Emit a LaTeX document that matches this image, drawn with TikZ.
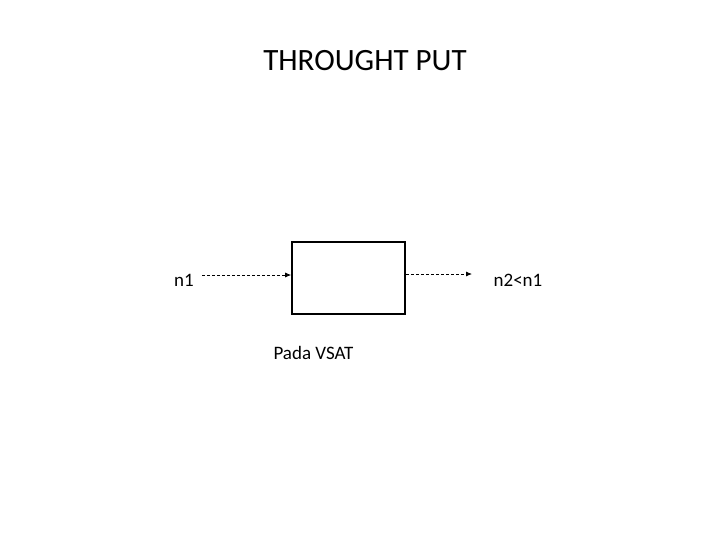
\documentclass[tikz,border=0pt]{standalone}
\usepackage{fontspec}
\setmainfont{Carlito}
\usetikzlibrary{arrows.meta}
\begin{document}
\begin{tikzpicture}[x=1pt,y=-1pt,
  lbl/.style={font=\fontsize{19}{22}\selectfont, inner sep=0pt},
  flow/.style={line width=0.8pt, dash pattern=on 3pt off 2pt, -{Latex[length=6pt,width=5pt]}}]
\useasboundingbox (0,0) rectangle (720,540);
\node[font=\fontsize{31}{36}\selectfont, inner sep=0pt] (title) at (365,61) {THROUGHT PUT};
\node[draw, line width=1.6pt, minimum width=113pt, minimum height=72pt, inner sep=0pt] (box) at (348.5,278) {};
\node[lbl] (n1) at (184,280) {n1};
\node[lbl] (n2) at (518,280) {n2<n1};
\node[lbl] (pada) at (313.5,353) {Pada VSAT};
\coordinate (a1) at (202,275);
\coordinate (b2) at (472,274);
\draw[flow] (a1) -- (box.west |- a1);
\draw[flow] (box.east |- b2) -- (b2);
\end{tikzpicture}
\end{document}
